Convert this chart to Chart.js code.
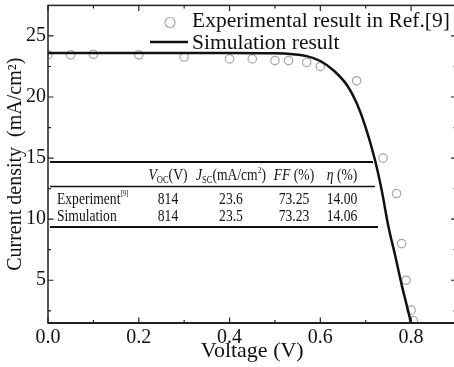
<!DOCTYPE html>
<html>
<head>
    <title>J-V curve</title>
    <meta charset="utf-8">
    <style>
        html, body {
            margin: 0;
            padding: 0;
            background: #fff;
            overflow: hidden;
        }
        #jv-chart {
            display: block;
        }
    </style>
    <script src="https://cdn.jsdelivr.net/npm/chart.js"></script>
</head>
<body>
    <canvas id="jv-chart" width="470" height="367"></canvas>

    <script>
        // measured J-V points (Ref.[9])
        const expVoltage = [0, 0.05, 0.1, 0.2, 0.3, 0.4, 0.45, 0.5, 0.53, 0.57, 0.6, 0.68, 0.738, 0.768, 0.779, 0.789, 0.8, 0.805];
        const expCurrent = [23.45, 23.45, 23.5, 23.45, 23.27, 23.12, 23.12, 22.98, 22.98, 22.83, 22.5, 21.33, 15.0, 12.1, 8.0, 5.0, 2.55, 1.7];

        // simulated curve
        const simVoltage = [0, 0.1, 0.2, 0.3, 0.4, 0.5, 0.54, 0.57, 0.6, 0.63, 0.66, 0.68, 0.7, 0.72, 0.735, 0.75, 0.765, 0.78, 0.79, 0.8, 0.805];
        const simCurrent = [23.6, 23.6, 23.6, 23.6, 23.6, 23.58, 23.5, 23.35, 22.95, 22.15, 20.9, 19.5, 17.5, 14.9, 12.4, 9.4, 7.0, 4.5, 3.0, 1.5, 0.8];

        const xTicks = [0, 0.1, 0.2, 0.3, 0.4, 0.5, 0.6, 0.7, 0.8, 0.9];
        const yTicks = [2.5, 5, 7.5, 10, 12.5, 15, 17.5, 20, 22.5, 25];

        // parameter table
        const rowLabels = ['Experiment', 'Simulation'];
        const expParams = ['814', '23.6', '73.25', '14.00'];
        const simParams = ['814', '23.5', '73.23', '14.06'];

        const serif = '"Liberation Serif", "Times New Roman", serif';
        const ink = '#111';

        // table text is a bit condensed
        const SX = 0.85;
        function runsWidth(ctx, runs) {
            let w = 0;
            runs.forEach(r => { ctx.font = r.font; w += ctx.measureText(r.text).width * SX; });
            return w;
        }
        function drawRuns(ctx, runs, x, y, align) {
            const w = runsWidth(ctx, runs);
            let cx = align === 'center' ? x - w / 2 : (align === 'right' ? x - w : x);
            runs.forEach(r => {
                ctx.font = r.font;
                ctx.save();
                ctx.translate(cx, y + (r.dy || 0));
                ctx.scale(SX, 1);
                ctx.fillText(r.text, 0, 0);
                ctx.restore();
                cx += ctx.measureText(r.text).width * SX;
            });
        }

        const f16 = '16px ' + serif;
        const i16 = 'italic 16px ' + serif;
        const f10 = '10px ' + serif;
        const headers = [
            [{text: 'V', font: i16}, {text: 'OC', font: f10, dy: 3}, {text: '(V)', font: f16}],
            [{text: 'J', font: i16}, {text: 'SC', font: f10, dy: 3}, {text: '(mA/cm', font: f16}, {text: '2', font: '9px ' + serif, dy: -7}, {text: ')', font: f16}],
            [{text: 'FF', font: i16}, {text: ' (%)', font: f16}],
            [{text: 'η', font: i16}, {text: ' (%)', font: f16}]
        ];
        const colX = [168, 231, 294, 342];

        // box, inward ticks on all four sides
        const frameTicks = {
            id: 'frameTicks',
            afterDatasetsDraw(chart) {
                const {ctx, chartArea: a, scales: {x, y}} = chart;
                ctx.save();
                ctx.strokeStyle = '#222';
                ctx.lineWidth = 1.2;
                ctx.beginPath();
                xTicks.forEach((v, i) => {
                    const px = x.getPixelForValue(v);
                    const len = i % 2 ? 3 : 5.5;
                    ctx.moveTo(px, a.bottom); ctx.lineTo(px, a.bottom - len);
                    ctx.moveTo(px, a.top); ctx.lineTo(px, a.top + len);
                });
                yTicks.forEach(v => {
                    const py = y.getPixelForValue(v);
                    const len = v % 5 ? 3 : 5.5;
                    ctx.moveTo(a.left, py); ctx.lineTo(a.left + len, py);
                    ctx.moveTo(a.right, py); ctx.lineTo(a.right - len, py);
                });
                ctx.stroke();
                ctx.lineWidth = 1.5;
                ctx.strokeRect(a.left, a.top, a.right - a.left, a.bottom - a.top);
                ctx.lineWidth = 2;
                ctx.beginPath();
                ctx.moveTo(a.left, a.bottom); ctx.lineTo(a.right, a.bottom);
                ctx.stroke();
                ctx.restore();
            }
        };

        // legend and parameter table inside the plot
        const overlay = {
            id: 'overlay',
            afterDraw(chart) {
                const ctx = chart.ctx;
                const [sim, exp] = chart.data.datasets;
                ctx.save();
                ctx.fillStyle = ink;
                ctx.textBaseline = 'alphabetic';
                ctx.font = '21.5px ' + serif;

                ctx.strokeStyle = exp.borderColor;
                ctx.lineWidth = exp.borderWidth;
                ctx.beginPath();
                ctx.arc(170, 22.5, 5, 0, Math.PI * 2);
                ctx.stroke();
                ctx.fillText(exp.label, 192, 27);

                ctx.strokeStyle = sim.borderColor;
                ctx.lineWidth = sim.borderWidth;
                ctx.beginPath();
                ctx.moveTo(150, 42); ctx.lineTo(188, 42);
                ctx.stroke();
                ctx.fillText(sim.label, 192, 48.5);

                // table rules
                ctx.strokeStyle = ink;
                [[162, 373, 2], [186.5, 375, 1.5], [227, 378, 2.2]].forEach(([ly, x2, lw]) => {
                    ctx.lineWidth = lw;
                    ctx.beginPath();
                    ctx.moveTo(50, ly); ctx.lineTo(x2, ly);
                    ctx.stroke();
                });

                headers.forEach((runs, i) => drawRuns(ctx, runs, colX[i], 180, 'center'));
                drawRuns(ctx, [{text: rowLabels[0], font: f16}, {text: '[9]', font: '8px ' + serif, dy: -8}], 57, 203.5, 'left');
                drawRuns(ctx, [{text: rowLabels[1], font: f16}], 57, 221, 'left');
                expParams.forEach((t, i) => drawRuns(ctx, [{text: t, font: f16}], colX[i], 203.5, 'center'));
                simParams.forEach((t, i) => drawRuns(ctx, [{text: t, font: f16}], colX[i], 221, 'center'));
                ctx.restore();
            }
        };

        const jvChart = new Chart(document.getElementById('jv-chart'), {
            type: 'scatter',
            data: {
                datasets: [{
                    label: 'Simulation result',
                    data: simVoltage.map((v, i) => ({x: v, y: simCurrent[i]})),
                    showLine: true,
                    borderColor: '#111',
                    borderWidth: 2.5,
                    pointRadius: 0,
                    cubicInterpolationMode: 'monotone',
                    order: 0
                }, {
                    label: 'Experimental result in Ref.[9]',
                    data: expVoltage.map((v, i) => ({x: v, y: expCurrent[i]})),
                    borderColor: '#a6a6a6',
                    backgroundColor: 'rgba(0,0,0,0)',
                    borderWidth: 1.2,
                    pointRadius: 4.2,
                    order: 1
                }]
            },
            options: {
                responsive: false,
                animation: false,
                events: [],
                layout: { padding: { top: 5, right: 13.5, left: 0, bottom: 0 } },
                plugins: {
                    legend: { display: false },
                    tooltip: { enabled: false }
                },
                scales: {
                    x: {
                        type: 'linear',
                        min: 0,
                        max: 0.9,
                        afterBuildTicks: s => { s.ticks = xTicks.map(v => ({value: v})); },
                        afterFit: s => { s.height = 44; s.paddingLeft = 0; s.paddingRight = 0; },
                        grid: { display: false, drawTicks: false },
                        border: { display: false },
                        ticks: {
                            autoSkip: false,
                            maxRotation: 0,
                            padding: 2.5,
                            color: ink,
                            font: { family: serif, size: 20 },
                            callback: (v, i) => i % 2 ? '' : xTicks[i].toFixed(1)
                        },
                        title: {
                            display: true,
                            text: 'Voltage (V)',
                            color: ink,
                            font: { family: serif, size: 22 },
                            padding: { top: 0, bottom: 3 }
                        }
                    },
                    y: {
                        min: 1.5,
                        max: 27.5,
                        afterBuildTicks: s => { s.ticks = yTicks.map(v => ({value: v})); },
                        afterFit: s => { s.width = 48; s.paddingTop = 0; s.paddingBottom = 0; },
                        grid: { display: false, drawTicks: false },
                        border: { display: false },
                        ticks: {
                            autoSkip: false,
                            padding: 2,
                            color: ink,
                            font: { family: serif, size: 20 },
                            callback: v => v % 5 ? '' : String(v)
                        },
                        title: {
                            display: true,
                            text: 'Current density  (mA/cm²)',
                            color: ink,
                            font: { family: serif, size: 20 },
                            padding: { top: 4, bottom: 0 }
                        }
                    }
                }
            },
            plugins: [frameTicks, overlay]
        });
    </script>
</body>
</html>
